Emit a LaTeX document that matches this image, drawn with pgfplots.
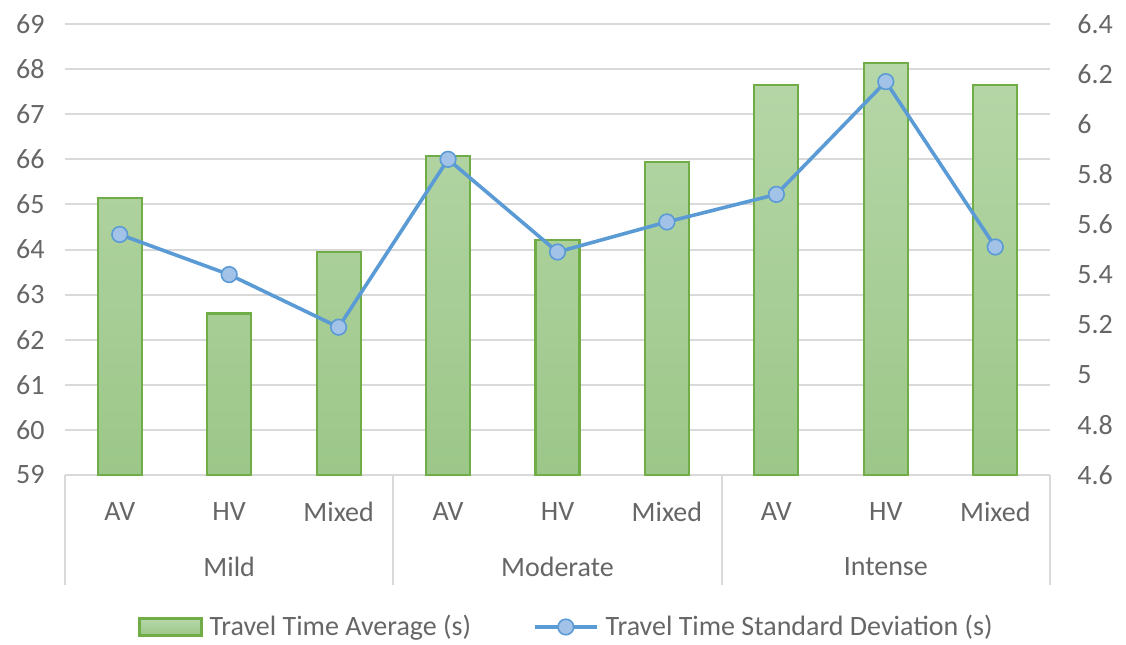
\documentclass[border=0pt]{standalone}
\usepackage{pgfplots}
\pgfplotsset{compat=1.18}
\usepackage{pgfplotstable}
\usepackage{fontspec}
\setmainfont{Carlito}

\definecolor{txt}{HTML}{666666}
\definecolor{gridc}{HTML}{D9D9D9}
\definecolor{barE}{HTML}{70AD47}
\definecolor{barT}{HTML}{B6D7A8}
\definecolor{barB}{HTML}{9CC789}
\definecolor{lineC}{HTML}{5B9BD5}
\definecolor{markF}{HTML}{A3C2E8}

% travel time average (s) and its standard deviation (s) per scenario
\pgfplotstableread{
idx avg   sd
0   65.15 5.56
1   62.58 5.40
2   63.95 5.19
3   66.07 5.86
4   64.21 5.49
5   65.94 5.61
6   67.65 5.72
7   68.13 6.17
8   67.65 5.51
}\datatable

\newcommand{\lblfont}{\fontsize{14pt}{16pt}\selectfont}

\pgfplotsset{
  base/.style={
    scale only axis, width=492.5pt, height=225.5pt,
    at={(0pt,0pt)}, anchor=south west,
    xmin=-0.5, xmax=8.5,
    axis line style={draw=none},
    tick style={draw=none},
    /pgf/number format/assume math mode=true,
    ticklabel style={text=txt, font=\lblfont, inner sep=0pt},
  },
  barlegend/.style={legend image code/.code={
    \draw[draw=barE, line width=1.1pt, top color=barT, bottom color=barB]
      (0pt,-4.25pt) rectangle (31pt,4.25pt);}},
  linelegend/.style={legend image code/.code={
    \draw[##1, mark repeat=2, mark phase=2]
      plot coordinates {(0pt,0pt) (15.5pt,0pt) (31pt,0pt)};}},
}

\begin{document}
\begin{tikzpicture}
\useasboundingbox (-32.5pt,-84.5pt) rectangle (530.5pt,237.5pt);
% left axis: averages as bars (baseline at 59)
\begin{axis}[base, clip=false,
  ymin=0, ymax=10, ytick={0,1,2,3,4,5,6,7,8,9,10},
  yticklabels={59,60,61,62,63,64,65,66,67,68,69},
  ymajorgrids, grid style={gridc, line width=1pt},
  xtick={0,...,8},
  xticklabels={AV,HV,Mixed,AV,HV,Mixed,AV,HV,Mixed},
  xticklabel style={anchor=center, yshift=-18.5pt},
  yticklabel style={anchor=east, xshift=-10pt},
]
\addplot[ybar, bar width=22pt, draw=barE, line width=1.1pt,
  top color=barT, bottom color=barB]
  table[x=idx, y expr=\thisrow{avg}-59] {\datatable};

% separators of the scenario groups below the axis
\pgfplotsinvokeforeach{-0.5,2.5,5.5,8.5}{
  \draw[gridc, line width=1pt] (axis cs:#1,0) -- ++(0pt,-55pt);
}
\node[text=txt, font=\lblfont, anchor=center, yshift=-46pt] at (axis cs:1,0) {Mild};
\node[text=txt, font=\lblfont, anchor=center, yshift=-46pt] at (axis cs:4,0) {Moderate};
\node[text=txt, font=\lblfont, anchor=center, yshift=-46pt] at (axis cs:7,0) {Intense};
\end{axis}

% right axis: standard deviation as a line
\begin{axis}[base,
  axis x line=none, axis y line*=right,
  ymin=4.6, ymax=6.4,
  ytick={4.6,4.8,5,5.2,5.4,5.6,5.8,6,6.2,6.4},
  yticklabel style={anchor=west, xshift=13.5pt},
  legend columns=2,
  legend style={at={(0.5081,0)}, anchor=center, yshift=-76pt,
    draw=none, fill=none, inner sep=0pt, font=\lblfont, text=txt,
    nodes={inner sep=0pt},
    /tikz/every odd column/.append style={column sep=3.5pt},
    /tikz/every even column/.append style={column sep=31pt}},
]
\addlegendimage{barlegend}
\addlegendentry{Travel Time Average (s)}

\addplot[color=lineC, line width=1.8pt, mark=*, mark size=3.9pt,
  mark options={fill=markF, draw=lineC, line width=0.8pt}, linelegend]
  table[x=idx, y=sd] {\datatable};
\addlegendentry{Travel Time Standard Deviation (s)}
\end{axis}
\end{tikzpicture}
\end{document}
